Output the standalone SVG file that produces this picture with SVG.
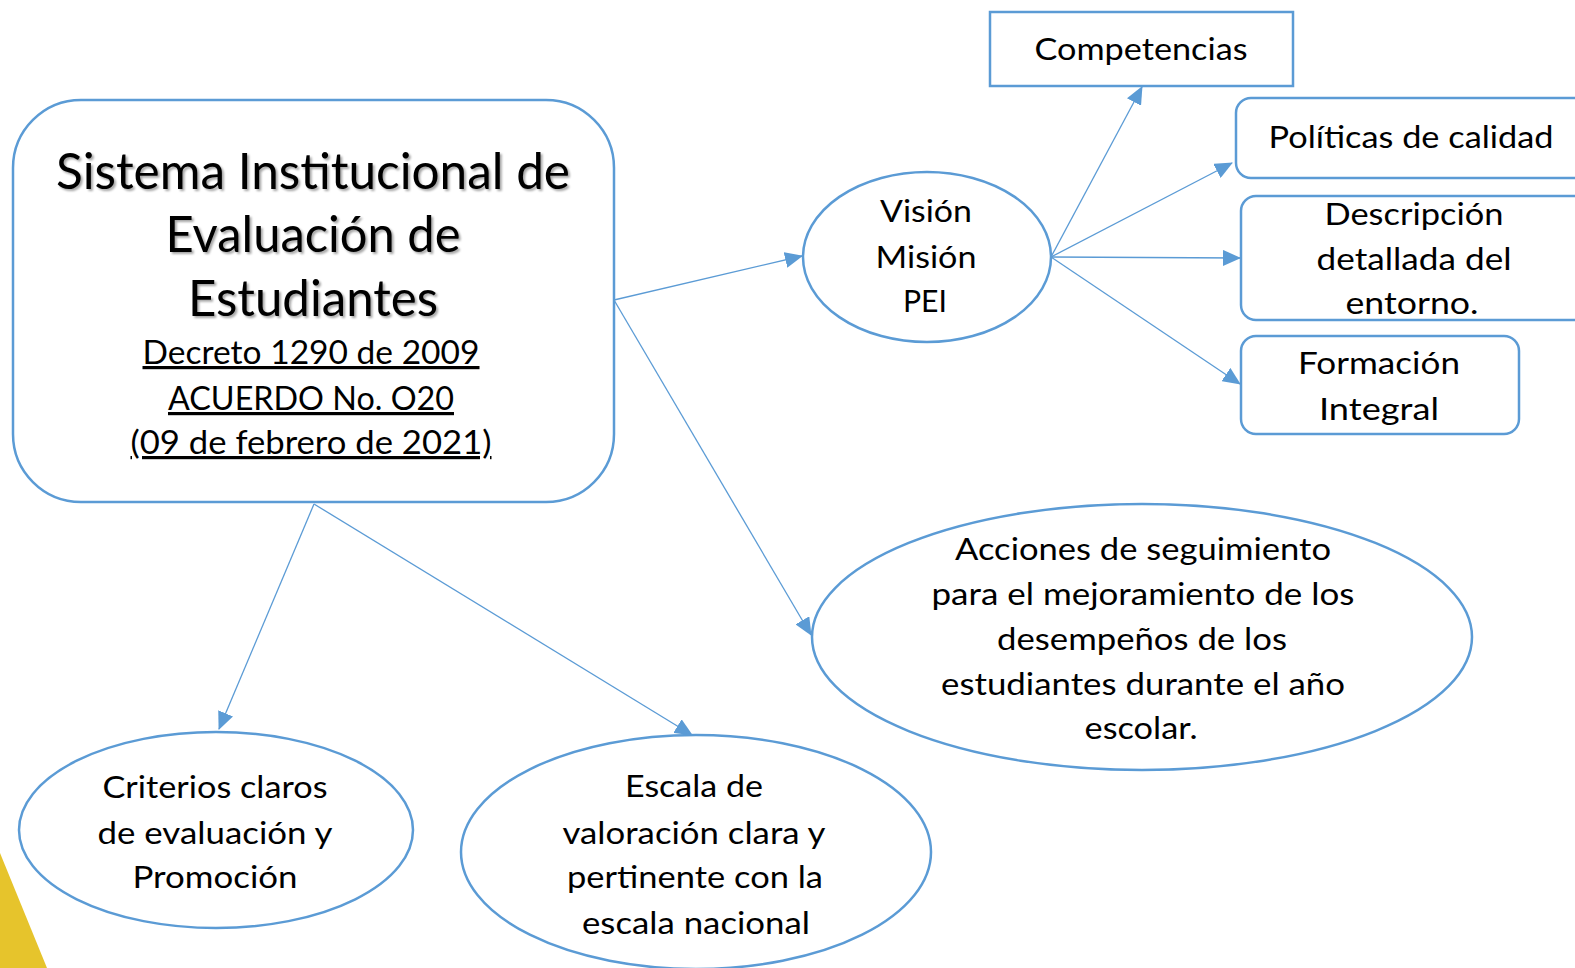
<svg xmlns="http://www.w3.org/2000/svg" width="1575" height="968" viewBox="0 0 1575 968">
<style>
.shape{fill:#fff;stroke:#5B9BD5;stroke-width:2.5}
.con{fill:none;stroke:#5B9BD5;stroke-width:1.3}
text{font-family:Lato,"Open Sans","Liberation Sans",sans-serif;fill:#000;text-anchor:middle}
.t{font-size:31px}
.title{font-size:50px}
.sub{font-size:32px;text-decoration:underline}
</style>
<defs>
<marker id="arr" markerUnits="userSpaceOnUse" markerWidth="18" markerHeight="16" refX="17" refY="8" orient="auto">
<path d="M0,0 L18,8 L0,16 Z" fill="#5B9BD5"/>
</marker>
<filter id="sh" x="-5%" y="-20%" width="110%" height="140%">
<feDropShadow dx="2" dy="2" stdDeviation="1.2" flood-color="#000" flood-opacity="0.35"/>
</filter>
</defs>
<rect width="1575" height="968" fill="#fff"/>
<polygon points="0,853 47,968 0,968" fill="#E6C42C"/>
<g id="connectors">
<line class="con" x1="614" y1="300" x2="802" y2="256" marker-end="url(#arr)"/>
<line class="con" x1="614" y1="300" x2="811" y2="635" marker-end="url(#arr)"/>
<line class="con" x1="314" y1="504" x2="219" y2="729" marker-end="url(#arr)"/>
<line class="con" x1="314" y1="504" x2="692" y2="735" marker-end="url(#arr)"/>
<line class="con" x1="1051" y1="257" x2="1142" y2="87" marker-end="url(#arr)"/>
<line class="con" x1="1051" y1="257" x2="1232" y2="163" marker-end="url(#arr)"/>
<line class="con" x1="1051" y1="257" x2="1240" y2="258" marker-end="url(#arr)"/>
<line class="con" x1="1051" y1="257" x2="1240" y2="384" marker-end="url(#arr)"/>
</g>
<g id="main">
<rect class="shape" x="13" y="100" width="601" height="402" rx="68"/>
<g filter="url(#sh)">
<text class="title" x="313" y="189" textLength="514" lengthAdjust="spacingAndGlyphs">Sistema Institucional de</text>
<text class="title" x="313" y="252" textLength="295" lengthAdjust="spacingAndGlyphs">Evaluación de</text>
<text class="title" x="313" y="316" textLength="250" lengthAdjust="spacingAndGlyphs">Estudiantes</text>
</g>
<text class="sub" x="311" y="364" textLength="337" lengthAdjust="spacingAndGlyphs">Decreto 1290 de 2009</text>
<text class="sub" x="311" y="410" textLength="286" lengthAdjust="spacingAndGlyphs">ACUERDO No. O20</text>
<text class="sub" x="311" y="454" textLength="361" lengthAdjust="spacingAndGlyphs">(09 de febrero de 2021)</text>
</g>
<g id="vision">
<ellipse class="shape" cx="927" cy="257" rx="124" ry="85"/>
<text class="t" x="926" y="222" textLength="92" lengthAdjust="spacingAndGlyphs">Visión</text>
<text class="t" x="926" y="268" textLength="101" lengthAdjust="spacingAndGlyphs">Misión</text>
<text class="t" x="925" y="312" textLength="44" lengthAdjust="spacingAndGlyphs">PEI</text>
</g>
<g id="competencias">
<rect class="shape" x="990" y="12" width="303" height="74"/>
<text class="t" x="1141" y="60" textLength="213" lengthAdjust="spacingAndGlyphs">Competencias</text>
</g>
<g id="politicas">
<rect class="shape" x="1236" y="98" width="360" height="80" rx="15"/>
<text class="t" x="1411" y="148" textLength="285" lengthAdjust="spacingAndGlyphs">Políticas de calidad</text>
</g>
<g id="descripcion">
<rect class="shape" x="1241" y="196" width="355" height="124" rx="15"/>
<text class="t" x="1414" y="225" textLength="179" lengthAdjust="spacingAndGlyphs">Descripción</text>
<text class="t" x="1414" y="270" textLength="195" lengthAdjust="spacingAndGlyphs">detallada del</text>
<text class="t" x="1412" y="314" textLength="133" lengthAdjust="spacingAndGlyphs">entorno.</text>
</g>
<g id="formacion">
<rect class="shape" x="1241" y="336" width="278" height="98" rx="15"/>
<text class="t" x="1379" y="374" textLength="162" lengthAdjust="spacingAndGlyphs">Formación</text>
<text class="t" x="1379" y="420" textLength="120" lengthAdjust="spacingAndGlyphs">Integral</text>
</g>
<g id="acciones">
<ellipse class="shape" cx="1142" cy="637" rx="330" ry="133"/>
<text class="t" x="1143" y="560" textLength="376" lengthAdjust="spacingAndGlyphs">Acciones de seguimiento</text>
<text class="t" x="1143" y="605" textLength="423" lengthAdjust="spacingAndGlyphs">para el mejoramiento de los</text>
<text class="t" x="1142" y="650" textLength="290" lengthAdjust="spacingAndGlyphs">desempeños de los</text>
<text class="t" x="1143" y="695" textLength="404" lengthAdjust="spacingAndGlyphs">estudiantes durante el año</text>
<text class="t" x="1141" y="739" textLength="113" lengthAdjust="spacingAndGlyphs">escolar.</text>
</g>
<g id="criterios">
<ellipse class="shape" cx="216" cy="830" rx="197" ry="98"/>
<text class="t" x="215" y="798" textLength="225" lengthAdjust="spacingAndGlyphs">Criterios claros</text>
<text class="t" x="215" y="844" textLength="235" lengthAdjust="spacingAndGlyphs">de evaluación y</text>
<text class="t" x="215" y="888" textLength="165" lengthAdjust="spacingAndGlyphs">Promoción</text>
</g>
<g id="escala">
<ellipse class="shape" cx="696" cy="852" rx="235" ry="117"/>
<text class="t" x="694" y="797" textLength="138" lengthAdjust="spacingAndGlyphs">Escala de</text>
<text class="t" x="694" y="844" textLength="263" lengthAdjust="spacingAndGlyphs">valoración clara y</text>
<text class="t" x="695" y="888" textLength="256" lengthAdjust="spacingAndGlyphs">pertinente con la</text>
<text class="t" x="696" y="934" textLength="228" lengthAdjust="spacingAndGlyphs">escala nacional</text>
</g>
</svg>
